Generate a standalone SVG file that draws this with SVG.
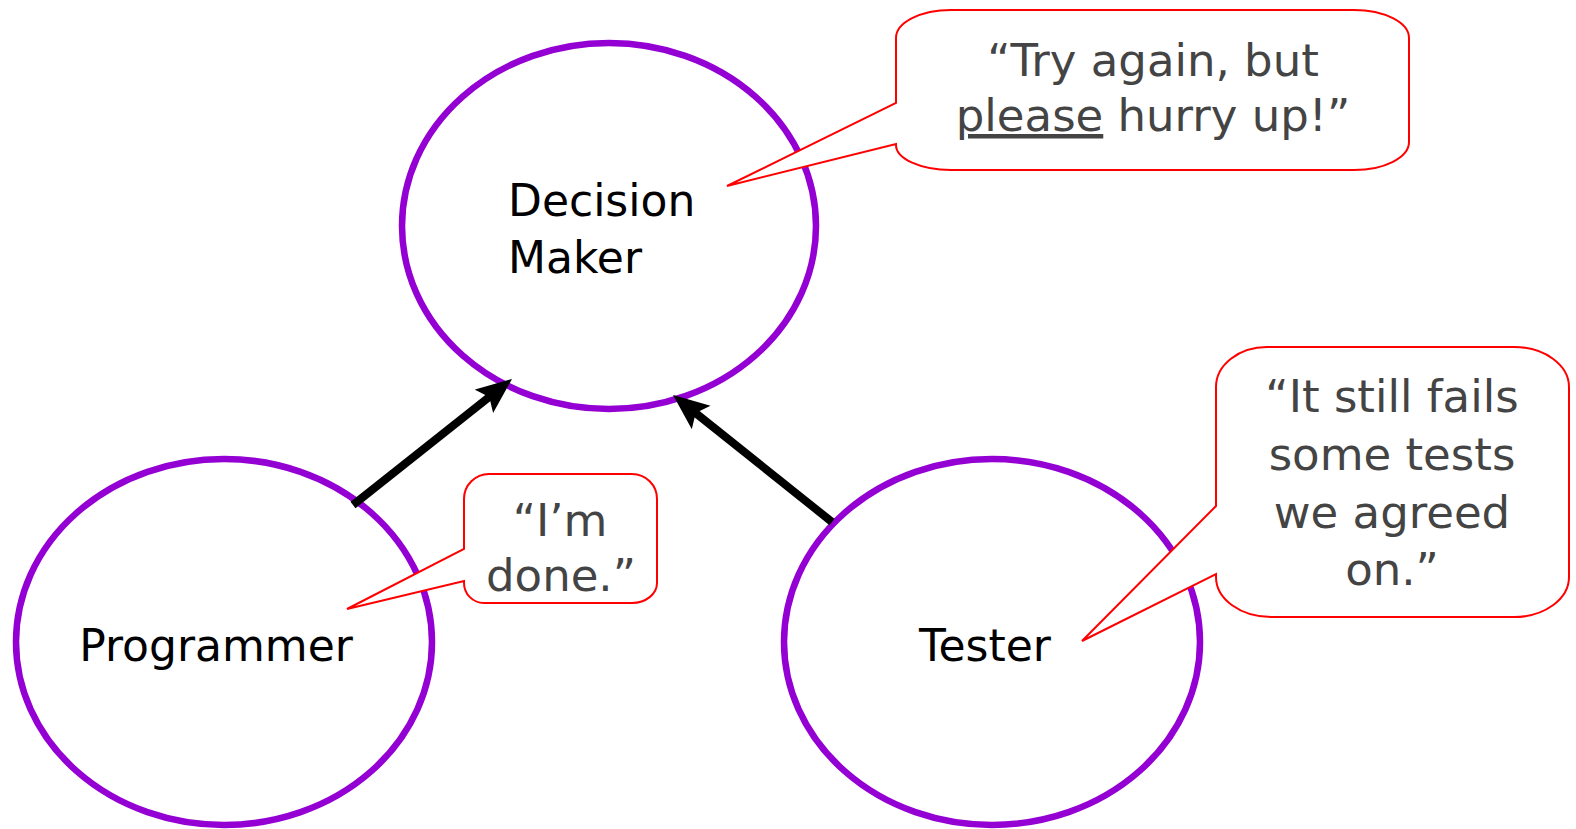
<svg xmlns="http://www.w3.org/2000/svg" width="1576" height="829" viewBox="0 0 1576 829">
<style>
.node{fill:#fff;stroke:#9400D3;stroke-width:6.5}
.lbl{font-family:"DejaVu Sans","Liberation Sans",sans-serif;font-size:44px;fill:#000}
.bub{fill:#fff;stroke:#ff0000;stroke-width:2}
.say{font-family:"DejaVu Sans","Liberation Sans",sans-serif;font-size:45px;fill:#444;text-anchor:middle}
.conn{stroke:#000;stroke-width:8;fill:none}
</style>
<defs>
<marker id="ah" markerUnits="userSpaceOnUse" markerWidth="40" markerHeight="32" refX="24" refY="15" orient="auto">
<path d="M0,0 L36,15 L0,30 L7,15 Z" fill="#000"/>
</marker>
</defs>
<rect width="1576" height="829" fill="#fff"/>
<g id="decision-maker">
<ellipse class="node" cx="609" cy="226" rx="207" ry="183"/>
<text class="lbl" x="508" y="216">Decision</text>
<text class="lbl" x="508" y="273">Maker</text>
</g>
<g id="programmer">
<ellipse class="node" cx="224" cy="642" rx="208" ry="183"/>
<text class="lbl" x="216" y="661" text-anchor="middle">Programmer</text>
</g>
<g id="tester">
<ellipse class="node" cx="992" cy="642" rx="208" ry="183"/>
<text class="lbl" x="985" y="661" text-anchor="middle">Tester</text>
</g>
<g id="connectors">
<line class="conn" x1="353" y1="505" x2="502.6" y2="386.4" marker-end="url(#ah)"/>
<line class="conn" x1="832" y1="522" x2="682.4" y2="402.5" marker-end="url(#ah)"/>
</g>
<g id="callout-decision">
<path class="bub" d="M951,10 H1354 A55,28 0 0 1 1409,38 V142 A55,28 0 0 1 1354,170 H951 A55,25 0 0 1 896,145 V144 L727,186 L896,103 V38 A55,28 0 0 1 951,10 Z"/>
<text class="say" x="1153" y="76">“Try again, but</text>
<text class="say" x="1153" y="131"><tspan text-decoration="underline">please</tspan> hurry up!”</text>
</g>
<g id="callout-programmer">
<path class="bub" d="M489,474 H632 A25,25 0 0 1 657,499 V583 A25,20 0 0 1 632,603 H484 A20,20 0 0 1 464,583 V581 L347,609 L464,549 V499 A25,25 0 0 1 489,474 Z"/>
<text class="say" x="560" y="536">“I’m</text>
<text class="say" x="561" y="591">done.”</text>
</g>
<g id="callout-tester">
<path class="bub" d="M1267,347 H1514 A55,40 0 0 1 1569,387 V577 A55,40 0 0 1 1514,617 H1271 A55,40 0 0 1 1216,577 V574 L1082,641 L1216,506 V387 A51,40 0 0 1 1267,347 Z"/>
<text class="say" x="1392" y="412">“It still fails</text>
<text class="say" x="1392" y="470">some tests</text>
<text class="say" x="1392" y="528">we agreed</text>
<text class="say" x="1392" y="585">on.”</text>
</g>
</svg>
